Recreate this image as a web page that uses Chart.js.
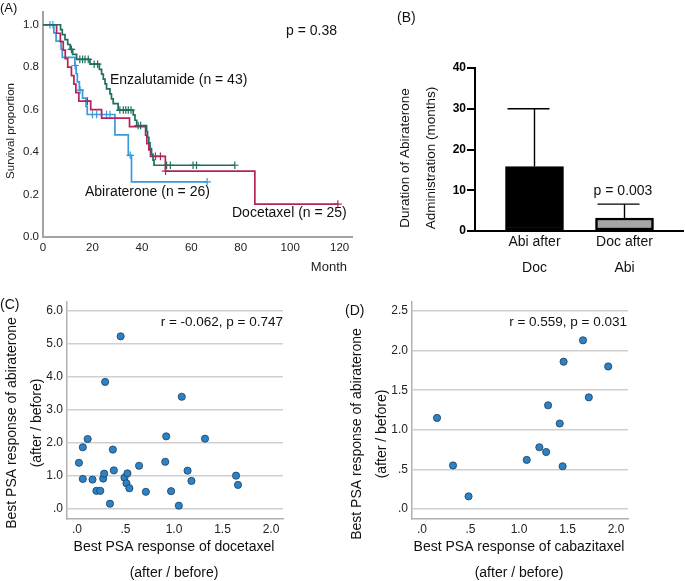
<!DOCTYPE html>
<html><head><meta charset="utf-8">
<script src="https://cdn.jsdelivr.net/npm/chart.js@4/dist/chart.umd.min.js"></script>
<style>
html,body{margin:0;padding:0;background:#fff;}
#wrap{position:relative;width:685px;height:581px;overflow:hidden;background:#fff;}
canvas{position:absolute;}
</style></head><body>
<div id="wrap">
<canvas id="cA" width="360" height="285" style="left:0;top:0"></canvas>
<canvas id="cB" width="325" height="290" style="left:360px;top:0"></canvas>
<canvas id="cC" width="345" height="291" style="left:0;top:290px"></canvas>
<canvas id="cD" width="340" height="291" style="left:345px;top:290px"></canvas>
</div>
<script>
// ---------- Panel A: Kaplan-Meier ----------
const kmXTicks = [0, 20, 40, 60, 80, 100, 120];
const kmXTickLabels = ['0', '20', '40', '60', '80', '100', '120'];
const kmYTicks = [0, 0.2, 0.4, 0.6, 0.8, 1.0];
const kmYTickLabels = ['0.0', '0.2', '0.4', '0.6', '0.8', '1.0'];

const enzaTimes = [0, 7.1, 7.8, 8.9, 10.0, 11.0, 12.0, 13.6, 19.0, 22.8, 23.7, 24.4, 25.1, 25.7, 27.1, 27.7, 28.4, 30.4, 36.5, 37.2, 37.9, 41.9, 42.3, 42.8, 43.3, 43.9, 44.5, 44.9, 77.6];
const enzaSurv = [1.0, 0.977, 0.953, 0.930, 0.907, 0.884, 0.860, 0.837, 0.814, 0.790, 0.767, 0.744, 0.721, 0.698, 0.674, 0.651, 0.628, 0.598, 0.575, 0.550, 0.525, 0.497, 0.470, 0.443, 0.416, 0.389, 0.362, 0.338, 0.338];
const enzaCensorTimes = [11.5, 14.9, 16.0, 17.0, 18.3, 20.7, 22.1, 31.1, 32.5, 33.5, 34.5, 35.6, 38.5, 39.5, 50.0, 51.5, 60.7, 62.1, 77.6];
const enzaCensorSurv = [0.884, 0.837, 0.837, 0.837, 0.837, 0.814, 0.814, 0.598, 0.598, 0.598, 0.598, 0.598, 0.525, 0.525, 0.338, 0.338, 0.338, 0.338, 0.338];

const abiTimes = [0, 4.4, 5.3, 7.3, 7.8, 12.9, 13.4, 13.9, 14.7, 16.0, 17.4, 17.9, 29.1, 34.5, 35.8, 66.4];
const abiSurv = [1.0, 0.962, 0.923, 0.885, 0.846, 0.808, 0.769, 0.731, 0.692, 0.654, 0.615, 0.577, 0.481, 0.385, 0.260, 0.260];
const abiCensorTimes = [2.8, 4.0, 13.0, 15.0, 20.0, 21.7, 23.7, 25.7, 27.1, 35.3, 66.4];
const abiCensorSurv = [1.0, 1.0, 0.808, 0.692, 0.577, 0.577, 0.577, 0.577, 0.577, 0.385, 0.260];

const docTimes = [0, 5.5, 7.0, 8.2, 9.0, 10.0, 11.5, 12.5, 13.3, 14.5, 19.3, 23.7, 35.0, 41.5, 42.0, 42.8, 43.5, 49.5, 85.7, 119.3];
const docSurv = [1.0, 0.96, 0.92, 0.88, 0.84, 0.80, 0.76, 0.72, 0.68, 0.64, 0.60, 0.56, 0.52, 0.48, 0.44, 0.41, 0.38, 0.31, 0.155, 0.155];
const docCensorTimes = [18.0, 45.5, 47.5, 49.6, 119.3];
const docCensorSurv = [0.64, 0.38, 0.38, 0.31, 0.155];

// ---------- Panel B: bar chart ----------
const durGroups = [['Abi after', 'Doc'], ['Doc after', 'Abi']];
const durMeans = [15.8, 3.2];
const durErrUpper = [30.0, 6.6];
const durYTicks = [0, 10, 20, 30, 40];

// ---------- Panel C: scatter ----------
const docetaxelResp = [0.02, 0.06, 0.11, 0.06, 0.16, 0.20, 0.24, 0.27, 0.28, 0.29, 0.34, 0.37, 0.38, 0.45, 0.49, 0.51, 0.52, 0.54, 0.64, 0.71, 0.91, 0.92, 0.97, 1.05, 1.08, 1.14, 1.18, 1.32, 1.64, 1.66];
const abiRespC = [1.40, 1.87, 2.12, 0.91, 0.89, 0.55, 0.55, 0.92, 1.07, 3.85, 0.16, 1.80, 1.17, 5.23, 0.95, 0.78, 1.08, 0.63, 1.31, 0.52, 1.43, 2.20, 0.54, 0.10, 3.40, 1.16, 0.85, 2.13, 1.01, 0.73];
const cXTicks = [0, 0.5, 1, 1.5, 2];
const cXTickLabels = ['.0', '.5', '1.0', '1.5', '2.0'];
const cYTicks = [0, 1, 2, 3, 4, 5, 6];
const cYTickLabels = ['.0', '1.0', '2.0', '3.0', '4.0', '5.0', '6.0'];

// ---------- Panel D: scatter ----------
const cabazitaxelResp = [0.155, 0.32, 0.48, 1.08, 1.21, 1.28, 1.30, 1.42, 1.45, 1.46, 1.66, 1.72, 1.92];
const abiRespD = [1.15, 0.55, 0.16, 0.62, 0.78, 0.72, 1.31, 1.08, 0.54, 1.86, 2.13, 1.41, 1.80];
const dXTicks = [0, 0.5, 1, 1.5, 2];
const dXTickLabels = ['.0', '.5', '1.0', '1.5', '2.0'];
const dYTicks = [0, 0.5, 1, 1.5, 2, 2.5];
const dYTickLabels = ['.0', '.5', '1.0', '1.5', '2.0', '2.5'];

// ---------- helpers ----------
const FONT = "'Liberation Sans', Arial, Helvetica, sans-serif";
Chart.defaults.font.family = FONT;
Chart.defaults.color = '#222';
Chart.defaults.animation = false;
Chart.defaults.plugins.legend.display = false;
Chart.defaults.plugins.tooltip.enabled = false;

const COL_ENZA = '#1f6e5f';
const COL_ABI = '#3a9bdc';
const COL_DOC = '#b3235c';

function textPlugin(items) {
  return {
    id: 'txt',
    afterDraw(chart) {
      const ctx = chart.ctx;
      items.forEach(it => {
        ctx.save();
        ctx.font = (it.weight || 'normal') + ' ' + it.size + 'px ' + FONT;
        ctx.fillStyle = it.color || '#111';
        ctx.textAlign = it.align || 'left';
        ctx.textBaseline = 'middle';
        ctx.translate(it.x, it.y);
        if (it.rot) ctx.rotate(it.rot);
        ctx.fillText(it.text, 0, 0);
        ctx.restore();
      });
    }
  };
}
function pts(xs, ys) { return xs.map((x, i) => ({ x: x, y: ys[i] })); }
function setTicks(arr) { return s => { s.ticks = arr.map(v => ({ value: v })); }; }

// ---------- Chart A ----------
function kmLine(t, s, col) {
  return { data: pts(t, s), showLine: true, stepped: 'before', borderColor: col, backgroundColor: col, borderWidth: 1.7, pointRadius: 0, fill: false };
}
function kmCensor(t, s, col) {
  return { data: pts(t, s), showLine: false, pointStyle: 'cross', pointRadius: 3.8, borderColor: col, backgroundColor: col, borderWidth: 1.2 };
}
new Chart(document.getElementById('cA'), {
  type: 'scatter',
  data: { datasets: [
    kmLine(enzaTimes, enzaSurv, COL_ENZA),
    kmLine(docTimes, docSurv, COL_DOC),
    kmLine(abiTimes, abiSurv, COL_ABI),
    kmCensor(enzaCensorTimes, enzaCensorSurv, COL_ENZA),
    kmCensor(docCensorTimes, docCensorSurv, COL_DOC),
    kmCensor(abiCensorTimes, abiCensorSurv, COL_ABI)
  ] },
  options: {
    responsive: false,
    layout: { padding: { top: 12, right: 8, left: 0, bottom: 0 } },
    scales: {
      x: {
        type: 'linear', min: 0, max: 125,
        afterBuildTicks: setTicks(kmXTicks),
        afterFit: s => { s.height = 48; },
        ticks: { callback: (v, i) => kmXTickLabels[i], font: { size: 11.5 }, color: '#222', padding: 3.5, autoSkip: false, maxRotation: 0 },
        grid: { display: false, drawTicks: false },
        border: { display: true, color: '#a3a3a3', width: 2 }
      },
      y: {
        type: 'linear', min: 0, max: 1.06,
        afterBuildTicks: setTicks(kmYTicks),
        afterFit: s => { s.width = 43; },
        ticks: { callback: (v, i) => kmYTickLabels[i], font: { size: 11.5 }, color: '#222', padding: 4, autoSkip: false },
        grid: { display: false, drawTicks: false },
        border: { display: true, color: '#a3a3a3', width: 2 }
      }
    }
  },
  plugins: [textPlugin([
    { text: '(A)', x: 0, y: 8, size: 13 },
    { text: 'p = 0.38', x: 286, y: 31, size: 14 },
    { text: 'Enzalutamide (n = 43)', x: 110, y: 80, size: 14 },
    { text: 'Abiraterone (n = 26)', x: 85, y: 192, size: 14 },
    { text: 'Docetaxel (n = 25)', x: 232, y: 213, size: 14 },
    { text: 'Survival proportion', x: 11, y: 131, size: 11.5, rot: -Math.PI / 2, align: 'center', color: '#222' },
    { text: 'Month', x: 347, y: 267, size: 13, align: 'right', color: '#222' }
  ])]
});

// ---------- Chart B ----------
const errorBarPlugin = {
  id: 'errbars',
  afterDatasetsDraw(chart) {
    const ctx = chart.ctx, xs = chart.scales.x, ys = chart.scales.y;
    ctx.save();
    ctx.strokeStyle = '#000';
    ctx.lineWidth = 1.4;
    durMeans.forEach((m, i) => {
      const x = xs.getPixelForValue(i + 1);
      const yb = ys.getPixelForValue(m);
      const yt = ys.getPixelForValue(durErrUpper[i]);
      ctx.beginPath();
      ctx.moveTo(x, yb); ctx.lineTo(x, yt);
      ctx.moveTo(x - 27, yt); ctx.lineTo(x + 15, yt);
      ctx.stroke();
    });
    ctx.restore();
  }
};
new Chart(document.getElementById('cB'), {
  type: 'bar',
  data: { datasets: [{
    data: durMeans.map((v, i) => ({ x: i + 1, y: v })),
    backgroundColor: ['#000000', '#a6a6a6'],
    borderColor: '#000000', borderWidth: 2.5, borderSkipped: false,
    barThickness: 58
  }] },
  options: {
    responsive: false,
    layout: { padding: { top: 68, right: 2, left: 0, bottom: 0 } },
    scales: {
      x: {
        type: 'linear', min: 0.339, max: 2.65, offset: false,
        afterBuildTicks: setTicks([1, 2]),
        afterFit: s => { s.height = 59; },
        ticks: { callback: (v, i) => durGroups[i], font: { size: 14, lineHeight: 1.8 }, color: '#111', padding: -1, autoSkip: false, maxRotation: 0 },
        grid: { display: false, drawTicks: false },
        border: { display: true, color: '#000', width: 2 }
      },
      y: {
        type: 'linear', min: 0, max: 40,
        afterBuildTicks: setTicks(durYTicks),
        afterFit: s => { s.width = 115; },
        ticks: { font: { size: 12, weight: 'bold' }, color: '#000', padding: 1, autoSkip: false },
        grid: { display: true, drawOnChartArea: false, drawTicks: true, tickLength: 8, tickColor: '#000', tickWidth: 2, color: '#000', lineWidth: 2 },
        border: { display: true, color: '#000', width: 2 }
      }
    }
  },
  plugins: [errorBarPlugin, textPlugin([
    { text: '(B)', x: 37, y: 18, size: 14 },
    { text: 'Duration of Abiraterone', x: 45, y: 158, size: 13.5, rot: -Math.PI / 2, align: 'center' },
    { text: 'Administration (months)', x: 71, y: 158, size: 13.5, rot: -Math.PI / 2, align: 'center' },
    { text: 'p = 0.003', x: 263, y: 191, size: 14, align: 'center' }
  ])]
});

// ---------- Charts C & D ----------
function scatterChart(id, xs, ys, xT, xTL, yT, yTL, ymin, ymax, texts) {
  return new Chart(document.getElementById(id), {
    type: 'scatter',
    data: { datasets: [{
      data: pts(xs, ys),
      pointRadius: 3.6, pointBackgroundColor: '#2c82c6', pointBorderColor: '#1d3d5c', pointBorderWidth: 0.8
    }] },
    options: {
      responsive: false,
      layout: { padding: { top: 12, right: document.getElementById(id).width - 283, left: 0, bottom: 0 } },
      scales: {
        x: {
          type: 'linear', min: -0.103, max: 2.124,
          afterBuildTicks: setTicks(xT),
          afterFit: s => { s.height = 62; },
          ticks: { callback: (v, i) => xTL[i], font: { size: 12 }, color: '#222', padding: 3, autoSkip: false, maxRotation: 0 },
          grid: { display: false, drawTicks: false },
          border: { display: true, color: '#b0b0b0', width: 1.5 }
        },
        y: {
          type: 'linear', min: ymin, max: ymax,
          afterBuildTicks: setTicks(yT),
          afterFit: s => { s.width = 67; },
          ticks: { callback: (v, i) => yTL[i], font: { size: 12 }, color: '#222', padding: 4, autoSkip: false },
          grid: { display: true, drawTicks: false, color: '#cfcfcf', lineWidth: 1.5 },
          border: { display: true, color: '#b0b0b0', width: 1.5 }
        }
      }
    },
    plugins: [textPlugin(texts)]
  });
}
scatterChart('cC', docetaxelResp, abiRespC, cXTicks, cXTickLabels, cYTicks, cYTickLabels, -0.303, 6.27, [
  { text: '(C)', x: 0, y: 15, size: 14 },
  { text: 'r = -0.062, p = 0.747', x: 283, y: 32, size: 13.5, align: 'right' },
  { text: 'Best PSA response of abiraterone', x: 12, y: 133, size: 14, rot: -Math.PI / 2, align: 'center' },
  { text: '(after / before)', x: 37, y: 133, size: 14, rot: -Math.PI / 2, align: 'center' },
  { text: 'Best PSA response of docetaxel', x: 174, y: 257, size: 14, align: 'center' },
  { text: '(after / before)', x: 174, y: 283, size: 14, align: 'center' }
]);
scatterChart('cD', cabazitaxelResp, abiRespD, dXTicks, dXTickLabels, dYTicks, dYTickLabels, -0.126, 2.614, [
  { text: '(D)', x: 0, y: 21, size: 14 },
  { text: 'r = 0.559, p = 0.031', x: 282, y: 32, size: 13.5, align: 'right' },
  { text: 'Best PSA response of abiraterone', x: 12, y: 144, size: 14, rot: -Math.PI / 2, align: 'center' },
  { text: '(after / before)', x: 37, y: 144, size: 14, rot: -Math.PI / 2, align: 'center' },
  { text: 'Best PSA response of cabazitaxel', x: 174, y: 257, size: 14, align: 'center' },
  { text: '(after / before)', x: 174, y: 283, size: 14, align: 'center' }
]);
</script>
</body></html>
